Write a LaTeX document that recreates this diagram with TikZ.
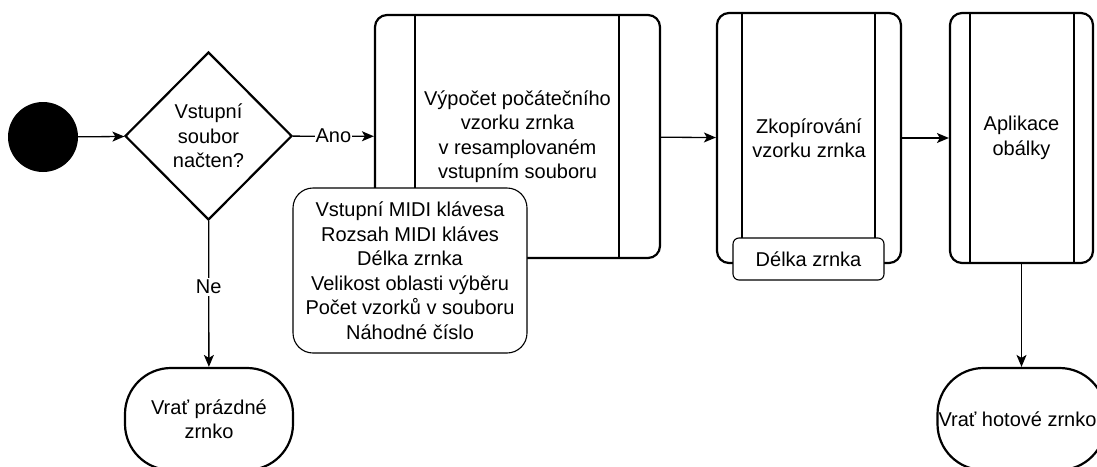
\documentclass[tikz,border=0pt]{standalone}
\usepackage{fontspec}
\setmainfont{Liberation Sans}
\usetikzlibrary{positioning}
\usetikzlibrary{shapes.geometric}
\usetikzlibrary{arrows.meta}

\begin{document}
\begin{tikzpicture}[x=1pt,y=-1pt,
					font=\fontsize{20}{24.5}\selectfont,
					startnode/.style={circle, fill=black, minimum size=70pt, inner sep=0pt},
					decisionnode/.style={diamond, draw=black, line width=2.2pt, fill=white, minimum width=167pt, minimum height=168pt, inner sep=0pt, align=center},
					processnode/.style={rectangle, rounded corners=12pt, draw=black, line width=2.2pt, fill=white, align=center},
					notenode/.style={rectangle, draw=black, line width=1.1pt, fill=white, align=center},
					endnode/.style={rectangle, rounded corners=46pt, draw=black, line width=2.2pt, fill=white, minimum width=168pt, minimum height=102pt, inner sep=0pt, align=center},
					arrowline/.style={line width=1.3pt, -{Stealth[length=12pt,width=10pt,inset=3pt]}},
					]
					\useasboundingbox (0,0) rectangle (1097,466);
					%Nodes
					\node[startnode]      (start) 	at 	(43,137)        {};
					\node[decisionnode]   (dec)     at 	(208.5,136)	{Vstupní\\soubor\\načten?};
					\node[processnode, minimum width=285pt, minimum height=243pt]  (calc)  at  (517.5,136.5)  {Výpočet počátečního\\vzorku zrnka\\v resamplovaném\\vstupním souboru};
					\node[processnode, minimum width=184pt, minimum height=250pt]  (copy)  at  (809,138)  {Zkopírování\\vzorku zrnka};
					\node[processnode, minimum width=143pt, minimum height=250pt]  (env)   at  (1021.5,138)  {Aplikace\\obálky};
					\node[endnode]        (empty)   at 	(209,419)	{Vrať prázdné\\zrnko};
					\node[endnode]        (done)    at 	(1021.5,419)	{\hspace*{-8pt}Vrať hotové zrnko};
					
					%Inner lines
					\draw[line width=2.2pt] ([xshift=41pt]calc.north west) -- ([xshift=41pt]calc.south west);
					\draw[line width=2.2pt] ([xshift=-42pt]calc.north east) -- ([xshift=-42pt]calc.south east);
					\draw[line width=2.2pt] ([xshift=26pt]copy.north west) -- ([xshift=26pt]copy.south west);
					\draw[line width=2.2pt] ([xshift=-27pt]copy.north east) -- ([xshift=-27pt]copy.south east);
					\draw[line width=2.2pt] ([xshift=21pt]env.north west) -- ([xshift=21pt]env.south west);
					\draw[line width=2.2pt] ([xshift=-20pt]env.north east) -- ([xshift=-20pt]env.south east);
					
					%Notes
					\node[notenode, rounded corners=20pt, minimum width=234pt, minimum height=165pt] (params) at (410,270.5) {Vstupní MIDI klávesa\\Rozsah MIDI kláves\\Délka zrnka\\Velikost oblasti výběru\\Počet vzorků v souboru\\Náhodné číslo};
					\node[notenode, rounded corners=6pt, minimum width=151pt, minimum height=42pt] (len) at (808.5,259) {Délka zrnka};
					
					%Lines
					\draw[arrowline] (start) -- (dec);
					\draw[arrowline] (dec) -- node[fill=white, inner sep=1pt] {Ano} (calc);
					\draw[arrowline] (dec) -- node[fill=white, inner sep=2pt, pos=0.45] {Ne} (empty);
					\draw[arrowline] (calc) -- (copy);
					\draw[arrowline] (copy) -- (env);
					\draw[arrowline] (env) -- (done);
				\end{tikzpicture}
\end{document}
